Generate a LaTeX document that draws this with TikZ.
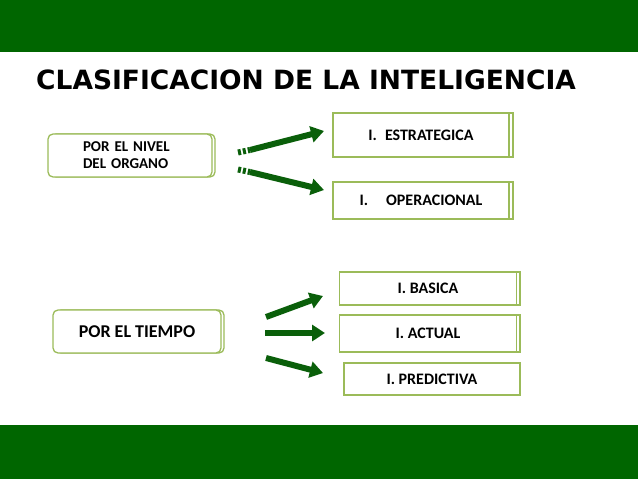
\documentclass[tikz,border=0pt]{standalone}
\usepackage{fontspec}
\setmainfont{Carlito}
\newfontfamily\titlefont{DejaVu Sans}
\usetikzlibrary{arrows.meta}
\definecolor{bargreen}{RGB}{0,102,0}
\definecolor{arrgreen}{RGB}{10,95,10}
\definecolor{boxline}{RGB}{155,187,89}
\tikzset{
  catbox/.style={rectangle,rounded corners=5pt,draw=boxline,line width=1.3pt,fill=white,
    font=\bfseries\fontsize{15}{17}\selectfont,align=left},
  typebox/.style={rectangle,draw=boxline,line width=1.3pt,fill=white,
    font=\bfseries\fontsize{16}{18}\selectfont},
  bigarrow/.style={draw=arrgreen,line width=6pt,-{Triangle[width=16pt,length=13pt]},arrgreen}
}
\begin{document}
\begin{tikzpicture}[x=1pt,y=-1pt]
  \useasboundingbox (0,0) rectangle (638,479);
  \fill[bargreen] (0,0) rectangle (638,52);
  \fill[bargreen] (0,425) rectangle (638,479);
  \node[anchor=west,font=\titlefont\bfseries\fontsize{26.5}{28}\selectfont,inner sep=0pt] (title) at (36,80)
    {CLASIFICACION DE LA INTELIGENCIA};
  % por el nivel del organo
  \draw[catbox] (51,134) rectangle (215,177);
  \node[catbox,minimum width=164pt,minimum height=43pt,text width=130pt] (nivel)
    at (130,155.5) {\hspace*{18pt}POR EL NIVEL\\\hspace*{18pt}DEL ORGANO};
  \draw[typebox] (337,113) rectangle (513,157);
  \node[typebox,minimum width=176pt,minimum height=44pt] (estrat) at (421,135)
    {I.\hspace{8pt}ESTRATEGICA};
  \draw[typebox] (337,182) rectangle (513,219);
  \node[typebox,minimum width=176pt,minimum height=37pt] (operac) at (421,200.5)
    {I.\hspace{18pt}OPERACIONAL};
  \coordinate (n1s) at (250,150);
  \coordinate (n1e) at (324,131);
  \coordinate (n2s) at (250,172);
  \coordinate (n2e) at (324,190);
  \draw[bigarrow] (n1s) -- (n1e);
  \draw[bigarrow] (n2s) -- (n2e);
  \draw[arrgreen,line width=6pt,dash pattern=on 3pt off 2pt] (238,152.5) -- (n1s);
  \draw[arrgreen,line width=6pt,dash pattern=on 3pt off 2pt] (238,169.5) -- (n2s);
  % por el tiempo
  \draw[catbox] (56,310) rectangle (224,353);
  \node[catbox,minimum width=168pt,minimum height=43pt,
    font=\bfseries\fontsize{18}{20}\selectfont] (tiempo) at (137,331.5) {POR EL TIEMPO};
  \draw[typebox] (343,272) rectangle (520,305);
  \node[typebox,minimum width=177pt,minimum height=33pt] (basica) at (428,288.5) {I. BASICA};
  \draw[typebox] (343,315) rectangle (520,352);
  \node[typebox,minimum width=177pt,minimum height=37pt] (actual) at (428,333.5) {I. ACTUAL};
  \node[typebox,minimum width=176pt,minimum height=32pt] (predic) at (432,379) {I. PREDICTIVA};
  \coordinate (t1s) at (266,317);
  \coordinate (t1e) at (323,296);
  \coordinate (t2s) at (265,333);
  \coordinate (t2e) at (325,333);
  \coordinate (t3s) at (266,358);
  \coordinate (t3e) at (323,373);
  \draw[bigarrow] (t1s) -- (t1e);
  \draw[bigarrow] (t2s) -- (t2e);
  \draw[bigarrow] (t3s) -- (t3e);
\end{tikzpicture}
\end{document}
